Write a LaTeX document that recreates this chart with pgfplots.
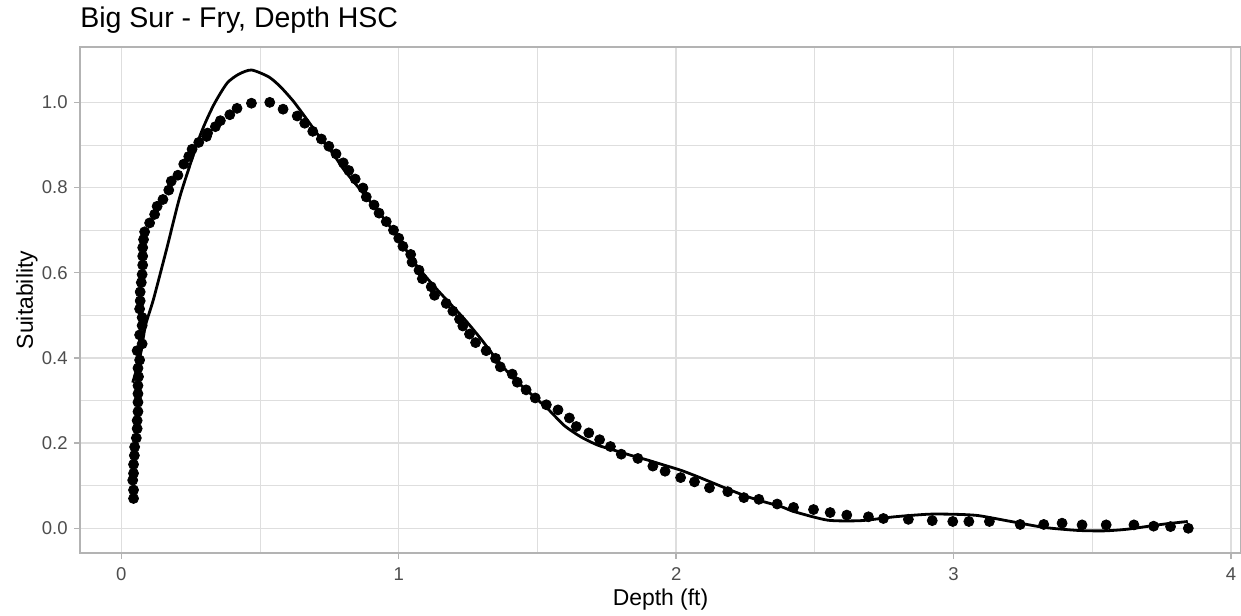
\documentclass[border=0pt]{standalone}
\usepackage{pgfplots}
\pgfplotsset{compat=1.18}
\usepackage{fontspec}
\setmainfont{Liberation Sans}
\definecolor{grey30}{HTML}{4D4D4D}
\definecolor{grey70}{HTML}{B3B3B3}
\definecolor{grey87}{HTML}{DEDEDE}
\begin{document}
\begin{tikzpicture}
\begin{axis}[
  name=ax,
  scale only axis,
  width=580.5bp, height=253bp,
  xmin=-0.149, xmax=4.036, ymin=-0.058, ymax=1.130,
  xtick={0,1,2,3,4}, ytick={0,0.2,0.4,0.6,0.8,1.0},
  minor xtick={0.5,1.5,2.5,3.5}, minor ytick={0.1,0.3,0.5,0.7,0.9},
  grid=both,
  major grid style={color=grey87, line width=0.74bp},
  minor grid style={color=grey87, line width=0.4bp},
  axis line style={color=grey70, line width=1.2bp},
  tick align=outside, major tick length=2.85bp, minor tick length=0pt,
  xtick pos=bottom, ytick pos=left,
  tick style={color=grey70, line width=0.74bp},
  /pgf/number format/assume math mode=true,
  ticklabel style={font=\fontsize{9.3}{10}\selectfont, text=grey30, inner sep=0pt},
  xticklabel style={anchor=base, yshift=-10.65bp},
  yticklabel style={anchor=east, xshift=-3.15bp, /pgf/number format/fixed, /pgf/number format/precision=1, /pgf/number format/fixed zerofill},
  xlabel={Depth (ft)}, ylabel={Suitability},
  label style={font=\fontsize{11.5}{13}\selectfont, inner sep=0pt},
  xlabel style={at={(axis description cs:0.5,-0.1042)}, anchor=base},
  ylabel style={at={(axis description cs:-0.0407,0.5)}, anchor=base},
  clip=false,
]
\addplot[only marks, mark=*, mark size=2.5bp, black] coordinates {
(0.044,0.070) (0.044,0.090) (0.041,0.113) (0.044,0.129) (0.044,0.150) (0.047,0.171)
(0.048,0.191) (0.054,0.212) (0.057,0.234) (0.057,0.253) (0.060,0.274) (0.060,0.296)
(0.060,0.316) (0.060,0.335) (0.062,0.356) (0.060,0.376) (0.066,0.395) (0.057,0.417)
(0.075,0.433) (0.066,0.454) (0.075,0.476) (0.075,0.495) (0.066,0.515) (0.068,0.534)
(0.068,0.555) (0.072,0.577) (0.075,0.596) (0.077,0.618) (0.077,0.639) (0.077,0.659)
(0.080,0.678) (0.084,0.696) (0.102,0.717) (0.120,0.737) (0.129,0.756) (0.150,0.772)
(0.171,0.794) (0.180,0.815) (0.204,0.829) (0.225,0.855) (0.243,0.873) (0.255,0.890)
(0.279,0.906) (0.307,0.920) (0.311,0.928) (0.339,0.943) (0.357,0.957) (0.391,0.971)
(0.417,0.986) (0.469,0.998) (0.535,1.000) (0.583,0.984) (0.634,0.968) (0.661,0.951)
(0.690,0.932) (0.721,0.914) (0.748,0.897) (0.774,0.879) (0.800,0.858) (0.820,0.840)
(0.843,0.820) (0.871,0.799) (0.883,0.778) (0.911,0.759) (0.929,0.740) (0.955,0.720)
(0.981,0.700) (1.000,0.681) (1.015,0.662) (1.043,0.643) (1.048,0.625) (1.073,0.606)
(1.085,0.586) (1.117,0.567) (1.129,0.547) (1.171,0.528) (1.195,0.510) (1.219,0.491)
(1.231,0.475) (1.255,0.456) (1.277,0.436) (1.315,0.417) (1.349,0.399) (1.366,0.379)
(1.409,0.362) (1.427,0.343) (1.459,0.325) (1.492,0.306) (1.532,0.290) (1.574,0.278)
(1.615,0.259) (1.640,0.239) (1.685,0.224) (1.724,0.208) (1.763,0.192) (1.802,0.174)
(1.862,0.164) (1.916,0.146) (1.960,0.134) (2.016,0.119) (2.066,0.109) (2.120,0.095)
(2.186,0.086) (2.244,0.072) (2.298,0.068) (2.364,0.057) (2.423,0.049) (2.495,0.044)
(2.555,0.037) (2.615,0.031) (2.693,0.027) (2.747,0.023) (2.837,0.021) (2.923,0.018)
(2.997,0.016) (3.055,0.016) (3.129,0.016) (3.240,0.009) (3.325,0.009) (3.391,0.012)
(3.463,0.008) (3.550,0.008) (3.650,0.008) (3.721,0.005) (3.782,0.004) (3.846,0.000)
};
\addplot[black, line width=1.4bp, smooth, tension=0.4] coordinates {
(0.041,0.342) (0.068,0.405) (0.087,0.476) (0.116,0.538) (0.165,0.660) (0.213,0.783)
(0.285,0.924) (0.333,0.994) (0.381,1.045) (0.423,1.066) (0.469,1.076)
(0.531,1.060) (0.573,1.037) (0.621,1.002) (0.670,0.959) (0.718,0.916) (0.766,0.877)
(0.802,0.842) (0.877,0.783) (0.937,0.735) (1.000,0.680) (1.057,0.623) (1.117,0.576)
(1.177,0.533) (1.237,0.491) (1.297,0.444) (1.357,0.393) (1.417,0.350) (1.477,0.315)
(1.538,0.280) (1.597,0.241) (1.658,0.214) (1.718,0.195) (1.778,0.183) (1.838,0.171)
(1.898,0.160) (1.958,0.148) (2.018,0.136) (2.078,0.121) (2.138,0.105) (2.198,0.089)
(2.258,0.074) (2.318,0.062) (2.378,0.051) (2.426,0.039) (2.547,0.019) (2.667,0.018)
(2.787,0.027) (2.907,0.033) (2.997,0.033) (3.087,0.030) (3.207,0.016) (3.327,0.002)
(3.448,-0.005) (3.544,-0.006) (3.628,-0.002) (3.748,0.009) (3.844,0.016)
};
\end{axis}
\node[anchor=base west, inner sep=0pt, font=\fontsize{14.3}{16}\selectfont] at ([yshift=9.65bp]ax.north west) {Big Sur - Fry, Depth HSC};
\pgfresetboundingbox
\path[use as bounding box] ([shift={(-40bp,-31.5bp)}]ax.south west) rectangle ([shift={(0bp,23.5bp)}]ax.north east);
\end{tikzpicture}
\end{document}
